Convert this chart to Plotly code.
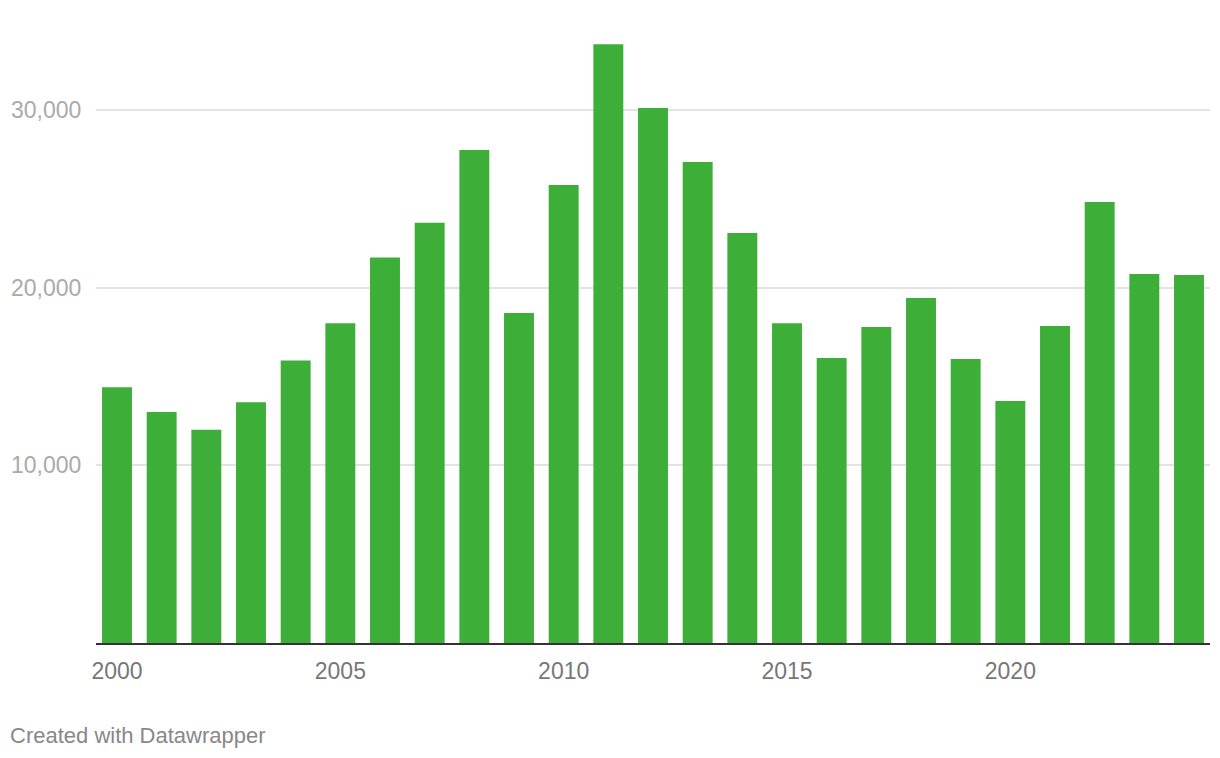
import plotly.graph_objects as go

years = list(range(2000, 2025))
values = [14400, 13000, 12000, 13550, 15900, 18000, 21700, 23650, 27750, 18570,
          25780, 33710, 30110, 27070, 23080, 18000, 16040, 17790, 19420, 15990,
          13620, 17840, 24820, 20770, 20710]
x_ticks = [2000, 2005, 2010, 2015, 2020]
y_ticks = [10000, 20000, 30000]
y_tick_labels = ["10,000", "20,000", "30,000"]

font_family = "Liberation Sans, Arial, Helvetica, sans-serif"

fig = go.Figure()
fig.add_trace(go.Bar(
    x=years, y=values,
    marker=dict(color="#3dae38", line=dict(width=0)),
    width=0.67,
    hoverinfo="x+y",
))

fig.update_layout(
    width=1220, height=758,
    margin=dict(l=88, r=18, t=31, b=123),
    paper_bgcolor="white", plot_bgcolor="white",
    showlegend=False,
    font=dict(family=font_family),
    xaxis=dict(
        range=[1999.53, 2024.47],
        tickmode="array", tickvals=x_ticks, ticktext=[str(v) for v in x_ticks],
        tickfont=dict(size=23, color="#777777", family=font_family),
        showgrid=False, zeroline=False,
        showline=True, linecolor="#333333", linewidth=2,
        ticks="outside", ticklen=6, tickcolor="rgba(0,0,0,0)",
        automargin=False,
        fixedrange=True,
    ),
    yaxis=dict(
        range=[0, 34000],
        tickmode="array", tickvals=y_ticks, ticktext=y_tick_labels,
        tickfont=dict(size=23, color="#aaaaaa", family=font_family),
        showgrid=True, gridcolor="#e3e3e3", gridwidth=2,
        zeroline=False, showline=False,
        ticks="outside", ticklen=9, tickcolor="rgba(0,0,0,0)",
        automargin=False,
        fixedrange=True,
    ),
    annotations=[dict(
        text="Created with Datawrapper",
        xref="paper", yref="paper",
        x=-88/1114, y=-92/604,
        xanchor="left", yanchor="middle",
        showarrow=False,
        font=dict(size=22, color="#888888", family=font_family),
    )],
)

fig.write_html("out.html")
